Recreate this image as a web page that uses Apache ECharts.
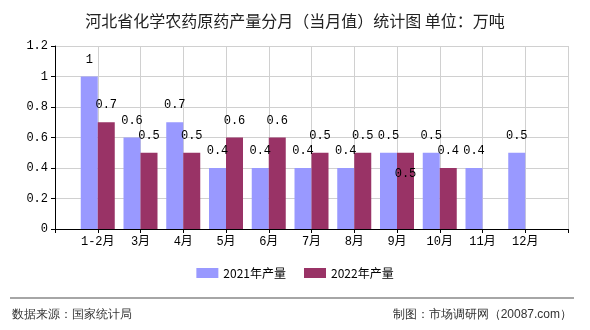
<!DOCTYPE html>
<html><head><meta charset="utf-8">
<script src="https://cdn.jsdelivr.net/npm/echarts@6/dist/echarts.min.js"></script>
<style>html,body{margin:0;padding:0;background:#fff}#c{width:590px;height:330px}</style>
</head><body><div id="c"></div>
<script>
var categories = ['', '1-2月', '3月', '4月', '5月', '6月', '7月', '8月', '9月', '10月', '11月', '12月', ''];
var values2021 = [null, 1, 0.6, 0.7, 0.4, 0.4, 0.4, 0.4, 0.5, 0.5, 0.4, 0.5, null];
var values2022 = [null, 0.7, 0.5, 0.5, 0.6, 0.6, 0.5, 0.5, 0.5, 0.4, null, null, null];
var yTicks = [0, 0.2, 0.4, 0.6, 0.8, 1, 1.2];
var seriesNames = ['2021年产量', '2022年产量'];
var titleText = '河北省化学农药原药产量分月（当月值）统计图 单位：万吨';
var sourceText = '数据来源：国家统计局';
var makerText = '制图：市场调研网（20087.com）';

var FONT = "SimSun, 'Noto Sans CJK SC', sans-serif";
var MONO = "'Liberation Mono', 'Noto Sans CJK SC', monospace";
var chart = echarts.init(document.getElementById('c'), null, {renderer: 'canvas'});

var data2022 = values2022.map(function (v, i) {
  if (i === 8) return {value: v, label: {position: 'insideTop', offset: [0, 4]}};
  return v;
});

chart.setOption({
  animation: false,
  backgroundColor: '#fff',
  textStyle: {fontFamily: FONT},
  title: {
    text: titleText, left: 'center', top: 8,
    textStyle: {fontSize: 16, fontWeight: 'normal', color: '#222', fontFamily: FONT}
  },
  legend: {
    bottom: 46, left: 'center', itemWidth: 22, itemHeight: 10, itemGap: 18,
    icon: 'rect',
    textStyle: {fontSize: 12, color: '#000', fontFamily: FONT},
    data: seriesNames
  },
  grid: {left: 55, right: 22, top: 46, bottom: 101, containLabel: false},
  xAxis: {
    type: 'category', data: categories, boundaryGap: false,
    axisLine: {lineStyle: {color: '#000', width: 1}},
    axisTick: {show: true, length: 4, lineStyle: {color: '#000'}},
    axisLabel: {color: '#000', fontSize: 12, margin: 7, interval: 0, fontFamily: MONO},
    splitLine: {show: true, lineStyle: {color: '#d0d0d0'}}
  },
  yAxis: {
    type: 'value', min: 0, max: 1.2, interval: 0.2,
    axisLine: {show: true, lineStyle: {color: '#000'}},
    axisTick: {show: true, length: 4, lineStyle: {color: '#000'}},
    axisLabel: {color: '#000', fontSize: 12, margin: 7, fontFamily: MONO,
      formatter: function (v) { return yTicks.indexOf(+v.toFixed(1)) >= 0 ? String(+v.toFixed(1)) : ''; }},
    splitLine: {show: true, lineStyle: {color: '#d0d0d0'}}
  },
  series: [
    {
      name: seriesNames[0], type: 'bar', data: values2021, barWidth: 17, barGap: '0%',
      itemStyle: {color: '#9999FF'},
      label: {show: true, position: 'top', color: '#000', fontSize: 12, distance: 11, fontFamily: MONO}
    },
    {
      name: seriesNames[1], type: 'bar', data: data2022, barWidth: 17, barGap: '0%',
      itemStyle: {color: '#993366'},
      label: {show: true, position: 'top', color: '#000', fontSize: 12, distance: 11, fontFamily: MONO}
    }
  ],
  graphic: [
    {type: 'line', shape: {x1: 10, y1: 298, x2: 574, y2: 298}, style: {stroke: '#888', lineWidth: 1.5}},
    {type: 'text', left: 12, top: 309, style: {text: sourceText, fontSize: 12, fill: '#333', font: '12px ' + FONT}},
    {type: 'text', right: 18, top: 309, style: {text: makerText, fontSize: 12, fill: '#333', font: '12px ' + FONT}}
  ]
});
</script></body></html>
